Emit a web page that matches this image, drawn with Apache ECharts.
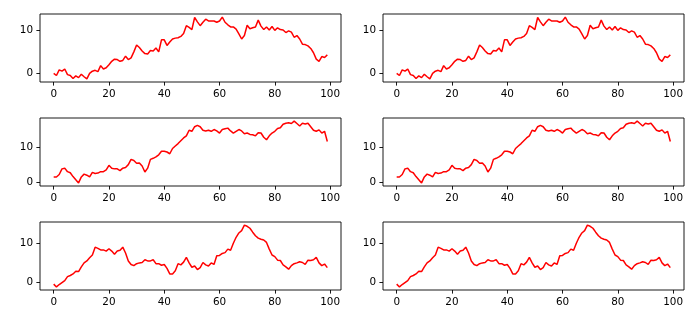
<!DOCTYPE html>
<html>
<head>
<meta charset="utf-8">
<script src="https://cdn.jsdelivr.net/npm/echarts@6/dist/echarts.min.js"></script>
<style>
  html, body { margin: 0; padding: 0; background: #fff; }
  #chart { width: 700px; height: 326px; }
</style>
</head>
<body>
<div id="chart"></div>
<script>
// three random walks, each drawn twice (left and right column)
const walkA = [
  0, -0.5, 0.8, 0.5, 1.0, -0.3, -0.5, -1.2, -0.6, -1.0,
  -0.2, -0.8, -1.3, 0.0, 0.5, 0.7, 0.4, 1.8, 1.0, 1.3,
  2.0, 2.8, 3.3, 3.2, 2.8, 3.0, 4.0, 3.2, 3.6, 5.0,
  6.6, 6.0, 5.2, 4.6, 4.5, 5.3, 5.2, 5.9, 5.0, 7.8,
  7.8, 6.5, 7.3, 8.0, 8.2, 8.3, 8.6, 9.3, 11.1, 10.7,
  10.2, 13.0, 12.0, 11.1, 11.9, 12.6, 12.2, 12.2, 12.2, 11.9,
  12.2, 13.1, 11.9, 11.3, 10.8, 10.8, 10.3, 9.2, 8.0, 8.8,
  11.2, 10.4, 10.6, 10.8, 12.4, 11.0, 10.2, 10.8, 10.1, 10.9,
  10.0, 10.6, 10.2, 10.1, 9.5, 9.9, 9.6, 8.4, 8.8, 8.0,
  6.8, 6.7, 6.4, 5.8, 4.8, 3.3, 2.8, 3.9, 3.7, 4.3
]
const walkB = [
  1.5, 1.5, 2.2, 3.8, 4.0, 3.0, 2.7, 1.6, 0.7, -0.2,
  1.5, 2.3, 2.0, 1.5, 2.8, 2.5, 2.6, 3.0, 3.0, 3.5,
  4.8, 4.0, 3.8, 3.8, 3.3, 4.0, 4.2, 5.0, 6.5, 6.2,
  5.4, 5.5, 4.6, 2.9, 4.0, 6.5, 6.8, 7.2, 7.8, 8.8,
  8.8, 8.6, 8.1, 9.6, 10.3, 11.0, 11.8, 12.6, 13.2, 14.8,
  14.5, 15.8, 16.2, 15.8, 14.8, 14.6, 14.8, 14.5, 15.0, 14.6,
  14.0, 15.0, 15.2, 15.4, 14.6, 14.0, 14.5, 15.0, 14.6, 13.8,
  14.0, 13.6, 13.5, 13.2, 14.1, 14.0, 12.8, 12.1, 13.2, 14.0,
  14.5, 15.3, 15.5, 16.5, 16.8, 16.9, 16.7, 17.4, 16.7, 16.0,
  16.8, 16.6, 16.8, 15.8, 14.8, 14.5, 14.9, 14.0, 14.5, 11.6
]
const walkC = [
  -0.4, -1.1, -0.5, 0.0, 0.5, 1.5, 1.8, 2.2, 2.9, 2.8,
  4.0, 5.0, 5.5, 6.3, 7.0, 9.0, 8.7, 8.3, 8.3, 8.0,
  8.6, 8.0, 7.2, 8.0, 8.2, 9.0, 7.5, 5.5, 4.6, 4.3,
  4.8, 5.0, 5.1, 5.8, 5.5, 5.5, 5.8, 4.8, 4.8, 4.4,
  4.6, 3.6, 2.2, 2.2, 3.0, 4.8, 4.5, 5.2, 6.4, 5.0,
  3.9, 4.2, 3.3, 3.8, 5.1, 4.5, 4.2, 5.0, 4.6, 6.8,
  6.9, 7.4, 7.6, 8.5, 8.2, 10.0, 11.5, 12.6, 13.2, 14.6,
  14.3, 13.8, 12.8, 11.9, 11.3, 11.0, 10.8, 10.2, 8.5, 7.0,
  6.6, 5.7, 5.6, 4.5, 4.0, 3.4, 4.3, 4.8, 5.0, 5.3,
  5.1, 4.6, 5.7, 5.6, 5.8, 6.4, 5.0, 4.3, 4.7, 3.8
]
const xTicks = [0, 20, 40, 60, 80, 100]
const yTicks = [0, 10]

const rows = [walkA, walkB, walkC]
const rowTops = [14, 118, 222]
const colLefts = [40, 383]

const chart = echarts.init(document.getElementById('chart'), null, { renderer: 'canvas' })

const grid = [], xAxis = [], yAxis = [], series = []
const font = { fontFamily: 'DejaVu Sans', fontSize: 10.4, color: '#000' }

rows.forEach((data, r) => {
  colLefts.forEach((left, c) => {
    const k = grid.length
    grid.push({
      left: left, top: rowTops[r], width: 301, height: 68,
      show: true, borderColor: '#000', borderWidth: 0.9, backgroundColor: '#fff'
    })
    // matplotlib style 5% margins around the data
    xAxis.push({
      type: 'value', gridIndex: k, position: 'bottom',
      min: -0.05 * 99, max: 99 * 1.05,
      splitLine: { show: false },
      axisLine: { show: false, onZero: false },
      axisTick: { show: true, length: 3.6, lineStyle: { color: '#000', width: 0.9 }, customValues: xTicks },
      axisLabel: Object.assign({ margin: 7, customValues: xTicks }, font)
    })
    yAxis.push({
      type: 'value', gridIndex: k, position: 'left',
      min: v => v.min - 0.05 * (v.max - v.min),
      max: v => v.max + 0.05 * (v.max - v.min),
      splitLine: { show: false },
      axisLine: { show: false, onZero: false },
      axisTick: { show: true, length: 3.6, lineStyle: { color: '#000', width: 0.9 }, customValues: yTicks },
      axisLabel: Object.assign({ margin: 7, customValues: yTicks }, font)
    })
    series.push({
      type: 'line', xAxisIndex: k, yAxisIndex: k,
      data: data.map((v, i) => [i, v]),
      showSymbol: false, animation: false,
      lineStyle: { color: '#ff0000', width: 1.5 }
    })
  })
})

chart.setOption({ animation: false, grid, xAxis, yAxis, series })
</script>
</body>
</html>
